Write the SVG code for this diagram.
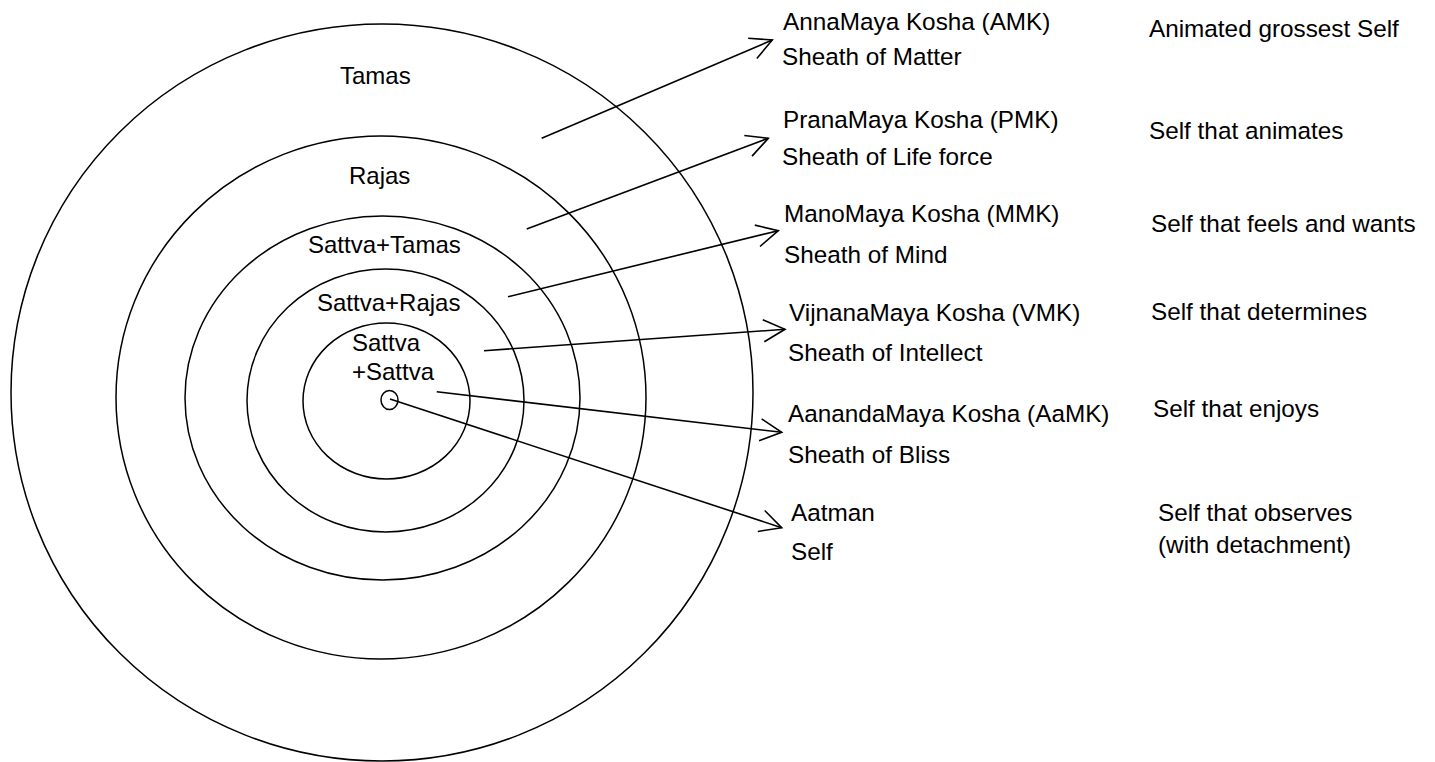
<svg xmlns="http://www.w3.org/2000/svg" width="1435" height="762" viewBox="0 0 1435 762">
<style>
.ring{fill:none;stroke:#000;stroke-width:1.5}
.t{font-family:"Liberation Sans",Arial,sans-serif;font-size:24px;fill:#000}
.r{font-family:"Liberation Sans",Arial,sans-serif;font-size:24.3px;fill:#000}
.conn{fill:none;stroke:#000;stroke-width:1.6}
</style>
<defs>
<marker id="arr" markerUnits="userSpaceOnUse" markerWidth="30" markerHeight="30" refX="0" refY="0" viewBox="-25 -15 30 30" orient="auto" overflow="visible">
<path d="M -21.5 -11 L 0 0 L -21.5 11" fill="none" stroke="#000" stroke-width="1.6"/>
</marker>
</defs>
<rect width="1435" height="762" fill="#fff"/>
<g id="ring-tamas">
<ellipse class="ring" cx="382" cy="392.5" rx="371" ry="368.5"/>
<text class="t" x="340" y="84">Tamas</text>
</g>
<g id="ring-rajas">
<ellipse class="ring" cx="381" cy="397.5" rx="265" ry="261.5"/>
<text class="t" x="349" y="184">Rajas</text>
</g>
<g id="ring-sattva-tamas">
<ellipse class="ring" cx="382.5" cy="398" rx="197.5" ry="182"/>
<text class="t" x="308" y="253">Sattva+Tamas</text>
</g>
<g id="ring-sattva-rajas">
<ellipse class="ring" cx="385.5" cy="400.5" rx="138.5" ry="131.5"/>
<text class="t" x="317" y="311">Sattva+Rajas</text>
</g>
<g id="ring-sattva-sattva">
<ellipse class="ring" cx="386.5" cy="401" rx="83.5" ry="78"/>
<text class="t" x="352" y="351">Sattva</text>
<text class="t" x="352" y="380">+Sattva</text>
</g>
<g id="core">
<ellipse class="ring" cx="389.5" cy="400" rx="8.5" ry="9.5"/>
</g>
<g id="connectors">
<line class="conn" x1="541.7" y1="138.3" x2="772.3" y2="40" marker-end="url(#arr)"/>
<line class="conn" x1="526.7" y1="229" x2="768.3" y2="138.3" marker-end="url(#arr)"/>
<line class="conn" x1="508" y1="296.7" x2="778.3" y2="230.7" marker-end="url(#arr)"/>
<line class="conn" x1="484" y1="350.7" x2="785" y2="329.3" marker-end="url(#arr)"/>
<line class="conn" x1="436.7" y1="391.7" x2="781.7" y2="432.3" marker-end="url(#arr)"/>
<line class="conn" x1="390" y1="399" x2="781.7" y2="527.7" marker-end="url(#arr)"/>
</g>
<g id="amk">
<text class="r" x="783" y="30">AnnaMaya Kosha (AMK)</text>
<text class="r" x="782" y="65">Sheath of Matter</text>
</g>
<g id="pmk">
<text class="r" x="783" y="128">PranaMaya Kosha (PMK)</text>
<text class="r" x="782" y="165">Sheath of Life force</text>
</g>
<g id="mmk">
<text class="r" x="784" y="222">ManoMaya Kosha (MMK)</text>
<text class="r" x="784" y="263">Sheath of Mind</text>
</g>
<g id="vmk">
<text class="r" x="789" y="321">VijnanaMaya Kosha (VMK)</text>
<text class="r" x="788" y="361">Sheath of Intellect</text>
</g>
<g id="aamk">
<text class="r" x="788" y="422">AanandaMaya Kosha (AaMK)</text>
<text class="r" x="788" y="463">Sheath of Bliss</text>
</g>
<g id="aatman">
<text class="r" x="791" y="521">Aatman</text>
<text class="r" x="791" y="560">Self</text>
</g>
<g id="desc">
<text class="r" x="1149" y="37">Animated grossest Self</text>
<text class="r" x="1149" y="139">Self that animates</text>
<text class="r" x="1151" y="232">Self that feels and wants</text>
<text class="r" x="1151" y="320">Self that determines</text>
<text class="r" x="1153" y="417">Self that enjoys</text>
<text class="r" x="1158" y="521">Self that observes</text>
<text class="r" x="1158" y="553">(with detachment)</text>
</g>
</svg>
